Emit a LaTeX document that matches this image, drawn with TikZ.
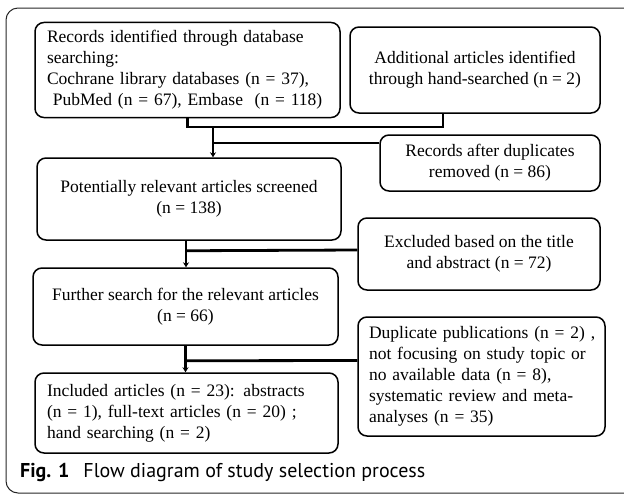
\documentclass[tikz,border=0pt]{standalone}
\usepackage{fontspec}
\setmainfont{Liberation Serif}
\setsansfont{PT Sans}
\usetikzlibrary{arrows.meta}
\tikzset{>={Stealth[length=5pt,width=6pt]}}
\tikzset{box/.style={draw, line width=1.5pt, rounded corners=9pt, inner sep=8pt, align=center},
  leftbox/.style={box, inner xsep=12pt, align=left},
  conn/.style={line width=2.8pt}}

\begin{document}
\begin{tikzpicture}[x=1pt, y=-1pt, font=\fontsize{17.5}{21}\selectfont]
    \useasboundingbox (0,0) rectangle (624,496);
    \draw [line width=1pt, rounded corners=12pt, black!85] (6,8) rectangle (640,493);
    % boxes
    \node [leftbox, minimum width=305pt, minimum height=86pt, text width=281pt] (rec) at (187.5,70)
        {Records identified through database\\ searching:\\ Cochrane library databases (n = 37),\\ \ PubMed (n = 67), Embase\ \ (n = 118)};
    \node [box, minimum width=250pt, minimum height=86pt] (add) at (475,70)
        {Additional articles identified\\ through hand-searched (n = 2)};
    \node [box, minimum width=220pt, minimum height=56pt] (dupl) at (490,163)
        {Records after duplicates\\ removed (n = 86)};
    \node [box, minimum width=304pt, minimum height=82pt] (screen) at (189,199)
        {Potentially relevant articles screened\\ (n = 138)};
    \node [box, minimum width=242pt, minimum height=72pt] (excl) at (479,254)
        {Excluded based on the title\\ and abstract (n = 72)};
    \node [box, minimum width=305pt, minimum height=77pt] (further) at (185.5,306.5)
        {Further search for the relevant articles\\ (n = 66)};
    \node [leftbox, inner xsep=11pt, minimum width=247pt, minimum height=119pt, text width=225pt] (pubs) at (481.5,376.5)
        {\mbox{Duplicate publications (n = 2) ,}\\ not focusing on study topic or\\ no available data (n = 8),\\ systematic review and meta-\\ analyses (n = 35)};
    \node [leftbox, minimum width=303pt, minimum height=80pt, text width=279pt] (incl) at (186.5,413)
        {Included articles (n = 23): abstracts\\ (n = 1), full-text articles (n = 20) ;\\ hand searching (n = 2)};
    % connectors
    \coordinate (m1) at (213,127);
    \coordinate (a1) at (443,113);
    \draw [conn] (rec.south) |- (m1) -| (a1);
    \draw [conn, ->] (m1) -- (m1 |- screen.north);
    \draw [conn] ([yshift=-16pt]m1) -- ([yshift=20pt]dupl.west);
    \draw [conn, ->] ([xshift=-3pt]screen.south) -- ([xshift=-3pt]screen.south |- further.north);
    \draw [conn] ([xshift=-3pt,yshift=-10pt]screen.south) -- ([yshift=4pt]excl.west);
    \draw [conn, ->] (further.south) -- (further.south |- incl.north);
    \draw [conn] ([yshift=-15pt]further.south) -- ([yshift=16pt]pubs.west);
    % caption
    \node [anchor=base west, inner sep=0pt, font=\sffamily\fontsize{20}{24}\selectfont] (cap) at (20,477)
        {\textbf{Fig. 1}\hspace{0.7em}Flow diagram of study selection process};
\end{tikzpicture}
\end{document}
